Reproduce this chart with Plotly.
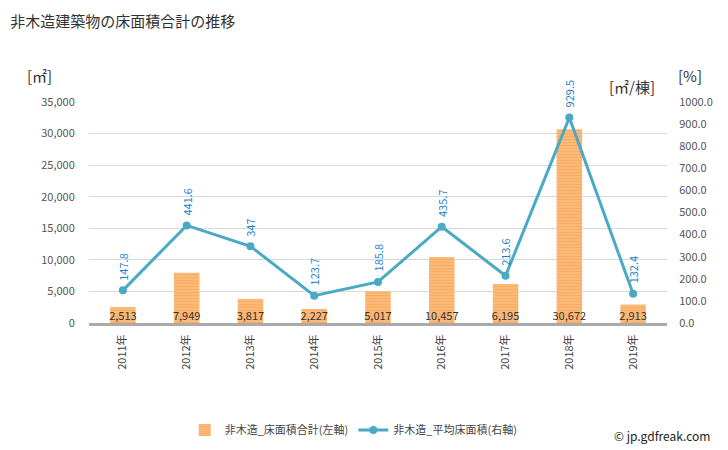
import plotly.graph_objects as go

years = ["2011年", "2012年", "2013年", "2014年", "2015年", "2016年", "2017年", "2018年", "2019年"]
floor_total = [2513, 7949, 3817, 2227, 5017, 10457, 6195, 30672, 2913]
avg_floor = [147.8, 441.6, 347, 123.7, 185.8, 435.7, 213.6, 929.5, 132.4]
avg_labels = ["147.8", "441.6", "347", "123.7", "185.8", "435.7", "213.6", "929.5", "132.4"]
left_ticks = [0, 5000, 10000, 15000, 20000, 25000, 30000, 35000]
right_ticks = [0, 100, 200, 300, 400, 500, 600, 700, 800, 900, 1000]

FONT = "Noto Sans CJK JP, Noto Sans, sans-serif"

fig = go.Figure()
fig.add_trace(go.Bar(
    x=years, y=floor_total, name="非木造_床面積合計(左軸)",
    marker=dict(color="#fbc48a", line=dict(width=0),
                pattern=dict(shape="-", fgcolor="#f78f30", bgcolor="#fcc891", size=3, solidity=0.65)),
    width=0.4,
))
fig.add_trace(go.Scatter(
    x=years, y=[0] * len(years), mode="text",
    text=[f"{v:,}" for v in floor_total], textposition="top center",
    textfont=dict(size=11, color="#333333", family=FONT),
    showlegend=False, hoverinfo="skip",
))
fig.add_trace(go.Scatter(
    x=years, y=avg_floor, name="非木造_平均床面積(右軸)", yaxis="y2",
    mode="lines+markers", line=dict(color="#4aaac6", width=3),
    marker=dict(size=8, color="#4aaac6"),
))

for x, v, t in zip(years, avg_floor, avg_labels):
    fig.add_annotation(x=x, y=v, yref="y2", text=t, textangle=-90, showarrow=False,
                       yanchor="bottom", yshift=8, font=dict(size=11, color="#1a7fd0", family=FONT))

fig.update_layout(
    width=720, height=442,
    margin=dict(l=81, r=61, t=94, b=127, autoexpand=False),
    plot_bgcolor="white", paper_bgcolor="white",
    font=dict(family=FONT, size=11, color="#444444"),
    title=dict(text="非木造建築物の床面積合計の推移", x=0.003, xanchor="left", y=0.968, yanchor="middle",
               font=dict(size=15, color="#333333", family=FONT)),
    xaxis=dict(tickangle=-90, showline=True, linecolor="#aaaaaa", linewidth=3,
               ticks="outside", ticklen=4, tickcolor="rgba(0,0,0,0)",
               tickfont=dict(size=11, color="#444444"), automargin=False),
    yaxis=dict(range=[0, 35000], tickvals=left_ticks, tickformat=",", gridcolor="#d9d9d9",
               zeroline=False, tickfont=dict(size=11, color="#555555"),
               ticks="outside", ticklen=11, tickcolor="rgba(0,0,0,0)", automargin=False),
    yaxis2=dict(range=[0, 1000], tickvals=right_ticks, tickformat=".1f", overlaying="y", side="right",
                showgrid=False, zeroline=False, tickfont=dict(size=11, color="#555555"),
                ticks="outside", ticklen=9, tickcolor="rgba(0,0,0,0)", automargin=False),
    legend=dict(orientation="h", x=0.458, xanchor="center", y=-0.484, yanchor="middle",
                font=dict(size=11, color="#444444")),
)

fig.add_annotation(xref="paper", yref="paper", x=-0.111, y=1.122, text="[㎡]", showarrow=False,
                   xanchor="left", yanchor="middle", font=dict(size=15, color="#333333"))
fig.add_annotation(xref="paper", yref="paper", x=1.016, y=1.122, text="[%]", showarrow=False,
                   xanchor="left", yanchor="middle", font=dict(size=15, color="#333333"))
fig.add_annotation(xref="paper", yref="paper", x=0.896, y=1.068, text="[㎡/棟]", showarrow=False,
                   xanchor="left", yanchor="middle", font=dict(size=15, color="#333333"))
fig.add_annotation(xref="paper", yref="paper", x=1.078, y=-0.511, text="© jp.gdfreak.com", showarrow=False,
                   xanchor="right", yanchor="middle", font=dict(size=12, color="#222222"))

fig.write_html("out.html")
